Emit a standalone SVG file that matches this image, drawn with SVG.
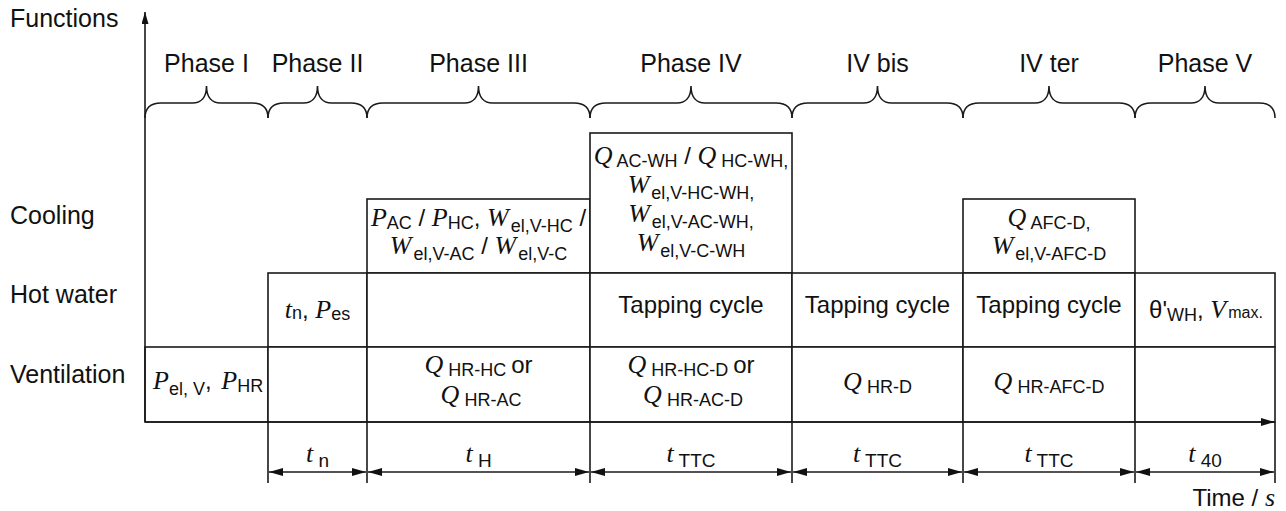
<svg xmlns="http://www.w3.org/2000/svg" width="1286" height="511" viewBox="0 0 1286 511">
<defs>
<style>
.ln{fill:none;stroke:#1a1a1a;stroke-width:1.6}
.cell{fill:#fff;stroke:#1a1a1a;stroke-width:1.6}
.lbl{font-family:"Liberation Sans",Arial,sans-serif;font-size:25px;fill:#111}
.t{font-family:"Liberation Sans",Arial,sans-serif;font-size:24px;fill:#111}
.v{font-family:"Liberation Serif","Times New Roman",serif;font-style:italic;font-size:26px;fill:#111}
.s{font-family:"Liberation Sans",Arial,sans-serif;font-size:18px;fill:#111}
.ds{font-family:"Liberation Sans",Arial,sans-serif;font-size:19px;fill:#111}
text{white-space:pre}
</style>
<marker id="ah" viewBox="0 0 14 8" refX="14" refY="4" markerWidth="14" markerHeight="8" markerUnits="userSpaceOnUse" orient="auto-start-reverse">
<path d="M0,0 L14,4 L0,8 Z" fill="#111"/>
</marker>
<marker id="ahv" viewBox="0 0 12 7" refX="12" refY="3.5" markerWidth="12" markerHeight="7" markerUnits="userSpaceOnUse" orient="auto">
<path d="M0,0 L12,3.5 L0,7 Z" fill="#111"/>
</marker>
</defs>
<rect width="1286" height="511" fill="#fff"/>

<!-- row labels -->
<g id="labels">
<text class="lbl" x="10" y="27">Functions</text>
<text class="lbl" x="10" y="224">Cooling</text>
<text class="lbl" x="10" y="303">Hot water</text>
<text class="lbl" x="10" y="383">Ventilation</text>
</g>

<!-- phase labels and braces -->
<g id="phases">
<text class="lbl" x="206.5" y="72" text-anchor="middle">Phase I</text>
<text class="lbl" x="317.5" y="72" text-anchor="middle">Phase II</text>
<text class="lbl" x="478.5" y="72" text-anchor="middle">Phase III</text>
<text class="lbl" x="691" y="72" text-anchor="middle">Phase IV</text>
<text class="lbl" x="877.5" y="72" text-anchor="middle">IV bis</text>
<text class="lbl" x="1049" y="72" text-anchor="middle">IV ter</text>
<text class="lbl" x="1205" y="72" text-anchor="middle">Phase V</text>
<path class="ln" d="M145,118 C145,108 151,103 161,103 L192.5,103 C200.5,103 206.5,98 206.5,86 C206.5,98 212.5,103 220.5,103 L252,103 C262,103 268,108 268,118"/>
<path class="ln" d="M268,118 C268,108 274,103 284,103 L303.5,103 C311.5,103 317.5,98 317.5,86 C317.5,98 323.5,103 331.5,103 L351,103 C361,103 367,108 367,118"/>
<path class="ln" d="M367,118 C367,108 373,103 383,103 L464.5,103 C472.5,103 478.5,98 478.5,86 C478.5,98 484.5,103 492.5,103 L574,103 C584,103 590,108 590,118"/>
<path class="ln" d="M590,118 C590,108 596,103 606,103 L677,103 C685,103 691,98 691,86 C691,98 697,103 705,103 L776,103 C786,103 792,108 792,118"/>
<path class="ln" d="M792,118 C792,108 798,103 808,103 L863.5,103 C871.5,103 877.5,98 877.5,86 C877.5,98 883.5,103 891.5,103 L947,103 C957,103 963,108 963,118"/>
<path class="ln" d="M963,118 C963,108 969,103 979,103 L1035,103 C1043,103 1049,98 1049,86 C1049,98 1055,103 1063,103 L1119,103 C1129,103 1135,108 1135,118"/>
<path class="ln" d="M1135,118 C1135,108 1141,103 1151,103 L1191,103 C1199,103 1205,98 1205,86 C1205,98 1211,103 1219,103 L1259,103 C1269,103 1275,108 1275,118"/>
</g>

<!-- cooling cells -->
<g id="cool-3">
<rect class="cell" x="367" y="199" width="223" height="74"/>
<text x="478.5" y="226" text-anchor="middle"><tspan class="v">P</tspan><tspan class="s" dy="3">AC</tspan><tspan class="t" dy="-3"> / </tspan><tspan class="v">P</tspan><tspan class="s" dy="3">HC</tspan><tspan class="t" dy="-3">, </tspan><tspan class="v">W</tspan><tspan class="s" dy="6" dx="2">el,V-HC</tspan><tspan class="t" dy="-6"> /</tspan></text>
<text x="478.5" y="254" text-anchor="middle"><tspan class="v">W</tspan><tspan class="s" dy="6" dx="2">el,V-AC</tspan><tspan class="t" dy="-6"> / </tspan><tspan class="v">W</tspan><tspan class="s" dy="6" dx="2">el,V-C</tspan></text>
</g>
<g id="cool-4">
<rect class="cell" x="590" y="133" width="202" height="140"/>
<text x="691" y="164" text-anchor="middle"><tspan class="v">Q</tspan><tspan class="s" dy="3"> AC-WH</tspan><tspan class="t" dy="-3"> / </tspan><tspan class="v">Q</tspan><tspan class="s" dy="3"> HC-WH,</tspan></text>
<text x="691" y="193" text-anchor="middle"><tspan class="v">W</tspan><tspan class="s" dy="6" dx="2">el,V-HC-WH,</tspan></text>
<text x="691" y="222" text-anchor="middle"><tspan class="v">W</tspan><tspan class="s" dy="6" dx="2">el,V-AC-WH,</tspan></text>
<text x="691" y="251" text-anchor="middle"><tspan class="v">W</tspan><tspan class="s" dy="6" dx="2">el,V-C-WH</tspan></text>
</g>
<g id="cool-6">
<rect class="cell" x="963" y="199" width="172" height="74"/>
<text x="1049" y="226" text-anchor="middle"><tspan class="v">Q</tspan><tspan class="s" dy="3"> AFC-D,</tspan></text>
<text x="1049" y="254" text-anchor="middle"><tspan class="v">W</tspan><tspan class="s" dy="6" dx="2">el,V-AFC-D</tspan></text>
</g>

<!-- hot water cells -->
<g id="hw-2">
<rect class="cell" x="268" y="273" width="99" height="74"/>
<text x="317.5" y="318" text-anchor="middle"><tspan class="v">t</tspan><tspan class="s" dy="1">n</tspan><tspan class="t" dy="-1">, </tspan><tspan class="v">P</tspan><tspan class="s" dy="2">es</tspan></text>
</g>
<g id="hw-3"><rect class="cell" x="367" y="273" width="223" height="74"/></g>
<g id="hw-4">
<rect class="cell" x="590" y="273" width="202" height="74"/>
<text class="t" x="691" y="313" text-anchor="middle">Tapping cycle</text>
</g>
<g id="hw-5">
<rect class="cell" x="792" y="273" width="171" height="74"/>
<text class="t" x="877.5" y="313" text-anchor="middle">Tapping cycle</text>
</g>
<g id="hw-6">
<rect class="cell" x="963" y="273" width="172" height="74"/>
<text class="t" x="1049" y="313" text-anchor="middle">Tapping cycle</text>
</g>
<g id="hw-7">
<rect class="cell" x="1135" y="273" width="140" height="74"/>
<text x="1206" y="318" text-anchor="middle"><tspan class="t">θ'</tspan><tspan class="s" dy="3">WH</tspan><tspan class="t" dy="-3">, </tspan><tspan class="v">V</tspan><tspan class="s" dx="2" style="font-size:16px">max.</tspan></text>
</g>

<!-- ventilation cells -->
<g id="vent-1">
<rect class="cell" x="145" y="347" width="123" height="75"/>
<text x="153" y="389"><tspan class="v">P</tspan><tspan class="s" dy="6">el, V</tspan><tspan class="t" dy="-6">, </tspan><tspan class="v" dx="3">P</tspan><tspan class="s" dy="3">HR</tspan></text>
</g>
<g id="vent-2"><rect class="cell" x="268" y="347" width="99" height="75"/></g>
<g id="vent-3">
<rect class="cell" x="367" y="347" width="223" height="75"/>
<text x="478.5" y="373" text-anchor="middle"><tspan class="v">Q</tspan><tspan class="s" dy="3"> HR-HC </tspan><tspan class="t" dy="-3">or</tspan></text>
<text x="481" y="403" text-anchor="middle"><tspan class="v">Q</tspan><tspan class="s" dy="3"> HR-AC</tspan></text>
</g>
<g id="vent-4">
<rect class="cell" x="590" y="347" width="202" height="75"/>
<text x="691" y="373" text-anchor="middle"><tspan class="v">Q</tspan><tspan class="s" dy="3"> HR-HC-D </tspan><tspan class="t" dy="-3">or</tspan></text>
<text x="693" y="403" text-anchor="middle"><tspan class="v">Q</tspan><tspan class="s" dy="3"> HR-AC-D</tspan></text>
</g>
<g id="vent-5">
<rect class="cell" x="792" y="347" width="171" height="75"/>
<text x="877.5" y="390" text-anchor="middle"><tspan class="v">Q</tspan><tspan class="s" dy="3"> HR-D</tspan></text>
</g>
<g id="vent-6">
<rect class="cell" x="963" y="347" width="172" height="75"/>
<text x="1049" y="390" text-anchor="middle"><tspan class="v">Q</tspan><tspan class="s" dy="3"> HR-AFC-D</tspan></text>
</g>
<g id="vent-7"><rect class="cell" x="1135" y="347" width="140" height="75"/></g>

<!-- connectors: axes, extension and dimension lines -->
<g id="connectors">
<line class="ln" x1="145" y1="422" x2="145" y2="12" marker-end="url(#ahv)"/>
<line class="ln" x1="145" y1="422" x2="1275" y2="422" marker-end="url(#ah)"/>
<line class="ln" x1="268" y1="422" x2="268" y2="483"/>
<line class="ln" x1="367" y1="422" x2="367" y2="483"/>
<line class="ln" x1="590" y1="422" x2="590" y2="483"/>
<line class="ln" x1="792" y1="422" x2="792" y2="483"/>
<line class="ln" x1="963" y1="422" x2="963" y2="483"/>
<line class="ln" x1="1135" y1="422" x2="1135" y2="483"/>
<line class="ln" x1="1275" y1="422" x2="1275" y2="483"/>
<line class="ln" x1="269" y1="472" x2="366" y2="472" marker-start="url(#ah)" marker-end="url(#ah)"/>
<line class="ln" x1="368" y1="472" x2="589" y2="472" marker-start="url(#ah)" marker-end="url(#ah)"/>
<line class="ln" x1="591" y1="472" x2="791" y2="472" marker-start="url(#ah)" marker-end="url(#ah)"/>
<line class="ln" x1="793" y1="472" x2="962" y2="472" marker-start="url(#ah)" marker-end="url(#ah)"/>
<line class="ln" x1="964" y1="472" x2="1134" y2="472" marker-start="url(#ah)" marker-end="url(#ah)"/>
<line class="ln" x1="1136" y1="472" x2="1274" y2="472" marker-start="url(#ah)" marker-end="url(#ah)"/>
</g>

<!-- dimension labels -->
<g id="dims">
<text x="317.5" y="462" text-anchor="middle"><tspan class="v">t</tspan><tspan class="ds" dy="5"> n</tspan></text>
<text x="478.5" y="462" text-anchor="middle"><tspan class="v">t</tspan><tspan class="ds" dy="5"> H</tspan></text>
<text x="691" y="462" text-anchor="middle"><tspan class="v">t</tspan><tspan class="ds" dy="5"> TTC</tspan></text>
<text x="877.5" y="462" text-anchor="middle"><tspan class="v">t</tspan><tspan class="ds" dy="5"> TTC</tspan></text>
<text x="1049" y="462" text-anchor="middle"><tspan class="v">t</tspan><tspan class="ds" dy="5"> TTC</tspan></text>
<text x="1205" y="462" text-anchor="middle"><tspan class="v">t</tspan><tspan class="ds" dy="5"> 40</tspan></text>
<text x="1275" y="506" text-anchor="end"><tspan class="t">Time / </tspan><tspan class="v">s</tspan></text>
</g>
</svg>
